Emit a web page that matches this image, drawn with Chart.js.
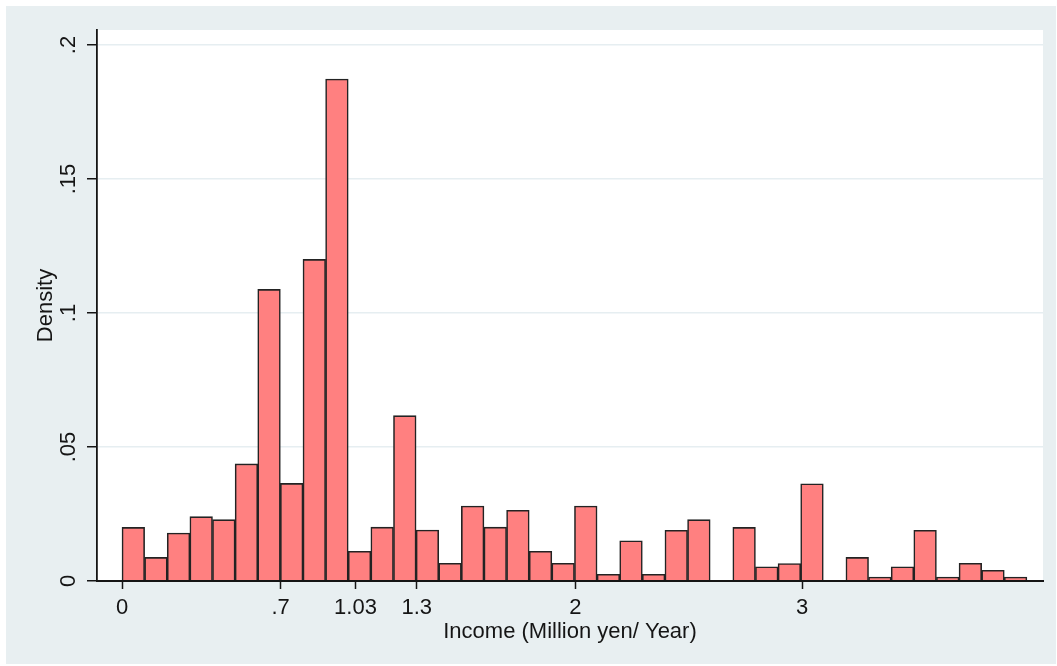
<!DOCTYPE html>
<html>
<head>
<meta charset="utf-8">
<script src="https://cdn.jsdelivr.net/npm/chart.js@4/dist/chart.umd.min.js"></script>
<style>
  html, body { margin: 0; padding: 0; background: #ffffff; }
  #wrap { width: 1057px; height: 666px; }
  canvas { display: block; }
</style>
</head>
<body>
<div id="wrap"><canvas id="hist" width="1057" height="666"></canvas></div>
<script>
// Histogram of annual income: 40 equal-width bins starting at 0.
const binStart = 0;
const binWidth = 0.0998;
const density = [
  0.0200, 0.0088, 0.0179, 0.0240, 0.0229, 0.0437, 0.1088, 0.0364, 0.1200, 0.1873,
  0.0111, 0.0201, 0.0617, 0.0190, 0.0066, 0.0280, 0.0201, 0.0264, 0.0111, 0.0066,
  0.0280, 0.0025, 0.0150, 0.0025, 0.0189, 0.0229, 0.0000, 0.0200, 0.0053, 0.0065,
  0.0363, 0.0000, 0.0088, 0.0015, 0.0053, 0.0189, 0.0015, 0.0066, 0.0040, 0.0015
];

const xTickValues = [0, 0.7, 1.03, 1.3, 2, 3];
const xTickLabels = ['0', '.7', '1.03', '1.3', '2', '3'];
const yTickValues = [0, 0.05, 0.1, 0.15, 0.2];
const yTickLabels = ['0', '.05', '.1', '.15', '.2'];

const xTitle = 'Income (Million yen/ Year)';
const yTitle = 'Density';

// Each bar sits at the centre of its bin on a linear income axis.
const points = density.map((d, i) => ({ x: binStart + (i + 0.5) * binWidth, y: d }));

const FONT = "'Liberation Sans', Arial, Helvetica, sans-serif";
const INK = '#151515';

// Bluish-grey graph region with a white plot region inside it.
const backdrop = {
  id: 'backdrop',
  beforeDraw(chart) {
    const { ctx, chartArea: a, width, height } = chart;
    ctx.save();
    ctx.fillStyle = '#ffffff';
    ctx.fillRect(0, 0, width, height);
    ctx.fillStyle = '#E8EFF1';
    ctx.fillRect(6, 6, width - 7, height - 8);
    ctx.fillStyle = '#ffffff';
    ctx.fillRect(a.left, a.top, a.right - a.left, a.bottom - a.top);
    ctx.restore();
  }
};

new Chart(document.getElementById('hist'), {
  type: 'bar',
  data: {
    datasets: [{
      data: points,
      backgroundColor: '#FF8080',
      borderColor: '#232323',
      borderWidth: 1.6,
      barPercentage: 1,
      categoryPercentage: 1
    }]
  },
  plugins: [backdrop],
  options: {
    responsive: false,
    animation: false,
    devicePixelRatio: 1,
    layout: { padding: { left: 0, top: 30, right: 14, bottom: 0 } },
    plugins: {
      legend: { display: false },
      tooltip: { enabled: false }
    },
    scales: {
      x: {
        type: 'linear',
        min: -0.1103,
        max: 4.063,
        offset: false,
        afterBuildTicks: s => { s.ticks = xTickValues.map(v => ({ value: v })); },
        afterFit: s => { s.height = 85; },
        ticks: {
          autoSkip: false,
          maxRotation: 0,
          minRotation: 0,
          padding: 6,
          color: INK,
          font: { family: FONT, size: 22 },
          callback: (v, i) => xTickLabels[i]
        },
        grid: {
          offset: false,
          drawOnChartArea: false,
          drawTicks: true,
          tickLength: 8,
          tickColor: INK,
          tickWidth: 1.5
        },
        border: { display: true, color: INK, width: 2, z: 1 },
        title: {
          display: true,
          text: xTitle,
          color: INK,
          font: { family: FONT, size: 22 },
          padding: { top: 0, bottom: 21 }
        }
      },
      y: {
        min: 0,
        max: 0.2056,
        afterBuildTicks: s => { s.ticks = yTickValues.map(v => ({ value: v })); },
        afterFit: s => { s.width = 97; },
        ticks: {
          minRotation: 90,
          maxRotation: 90,
          crossAlign: 'center',
          padding: 3,
          color: INK,
          font: { family: FONT, size: 22 },
          callback: (v, i) => yTickLabels[i]
        },
        grid: {
          color: '#E6EEF1',
          lineWidth: 1.5,
          drawTicks: true,
          tickLength: 10,
          tickColor: INK,
          tickWidth: 1.5
        },
        border: { display: true, color: INK, width: 1.8, z: 1 },
        title: {
          display: true,
          text: yTitle,
          color: INK,
          font: { family: FONT, size: 22 },
          padding: { top: 33, bottom: 0 }
        }
      }
    }
  }
});
</script>
</body>
</html>
